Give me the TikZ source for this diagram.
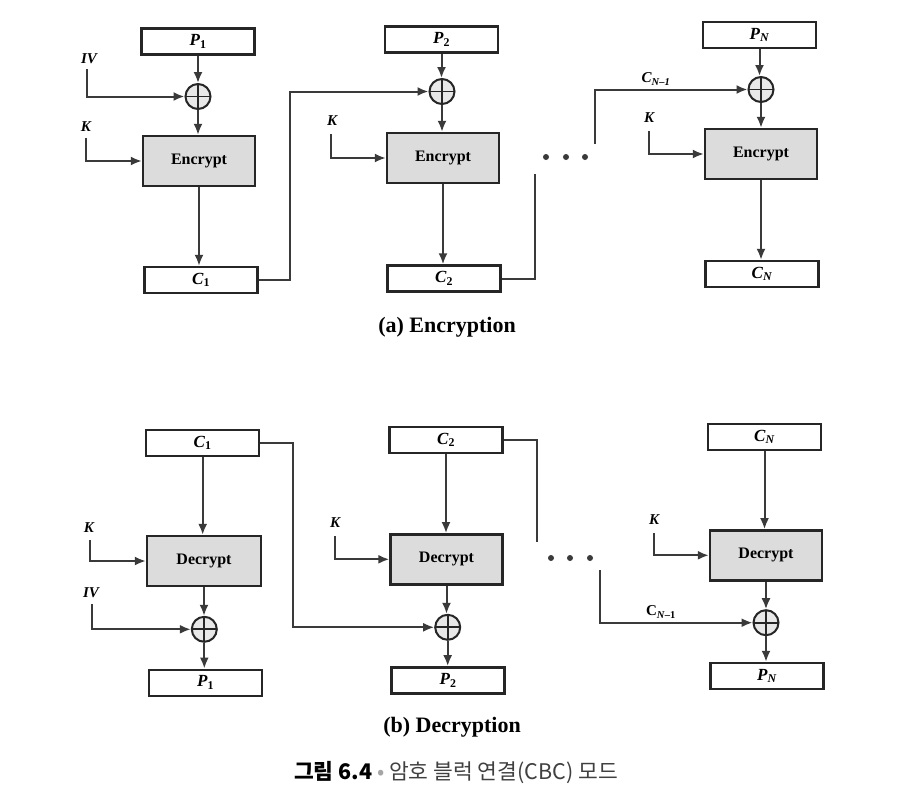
\documentclass[tikz,border=0pt]{standalone}
\usepackage{fontspec}
\setmainfont{Liberation Serif}
\newfontfamily\kr{Noto Sans CJK KR}
\usetikzlibrary{arrows.meta}
\definecolor{ln}{HTML}{3A3A3A}
\definecolor{boxfill}{HTML}{DCDCDC}
\newcommand\lab[2]{\textbf{\textit{#1}}\textsubscript{\textbf{#2}}}
\begin{document}
\begin{tikzpicture}[x=1pt,y=-1pt,
  line/.style={draw=ln,line width=2pt},
  arr/.style={line,-{Latex[length=11pt,width=9pt]}},
  databox/.style={draw=black!85,line width=2.4pt,fill=white,inner sep=0pt,minimum width=113pt,minimum height=26pt,font=\fontsize{17}{17}\selectfont},
  cipherbox/.style={draw=black!85,line width=2.4pt,fill=boxfill,inner sep=0pt,minimum width=112pt,minimum height=50pt,font=\fontsize{16}{16}\selectfont\bfseries},
  xor/.style={circle,draw=black!85,line width=2pt,fill=gray!18,minimum size=25pt,inner sep=0pt,
    path picture={\draw[black!85,line width=1.8pt] (path picture bounding box.north) -- (path picture bounding box.south) (path picture bounding box.west) -- (path picture bounding box.east);}},
  inlab/.style={font=\fontsize{15}{15}\selectfont\bfseries\itshape,inner sep=0pt},
  dot/.style={circle,fill=ln,inner sep=0pt,minimum size=6pt},
  title/.style={font=\fontsize{22}{22}\selectfont\bfseries}
]
\useasboundingbox (0,0) rectangle (897,809);
\fill[white] (0,0) rectangle (897,809);

% ===== Encryption =====
\node[databox] (P1) at (198,41.5) {\lab{P}{1}};
\node[xor] (X1) at (198,96.5) {};
\node[cipherbox] (E1) at (199,161) {Encrypt};
\node[databox] (C1) at (201,280) {\lab{C}{1}};

\node[databox] (P2) at (441.5,39.5) {\lab{P}{2}};
\node[xor] (X2) at (442,91.5) {};
\node[cipherbox] (E2) at (443,158) {Encrypt};
\node[databox] (C2) at (444,278.5) {\lab{C}{2}};

\node[databox] (PN) at (759.5,35) {\lab{P}{\textit{N}}};
\node[xor] (XN) at (761,89.5) {};
\node[cipherbox] (EN) at (761,154) {Encrypt};
\node[databox] (CN) at (762,274) {\lab{C}{\textit{N}}};

\draw[arr] (P1.south) -- (P1.south |- X1.north);
\draw[arr] (X1.south) -- (X1.south |- E1.north);
\draw[arr] (E1.south) -- (E1.south |- C1.north);
\draw[arr] (P2.south) -- (P2.south |- X2.north);
\draw[arr] (X2.south) -- (X2.south |- E2.north);
\draw[arr] (E2.south) -- (E2.south |- C2.north);
\draw[arr] (PN.south) -- (PN.south |- XN.north);
\draw[arr] (XN.south) -- (XN.south |- EN.north);
\draw[arr] (EN.south) -- (EN.south |- CN.north);

\node[inlab] (ivA) at (89,59) {IV};
\coordinate (ivAs) at (87,69);
\draw[arr] (ivAs) |- (X1.west);
\node[inlab] (kA1) at (86,127) {K};
\coordinate (kA1s) at (86,138);
\draw[arr] (kA1s) |- (E1.west);
\node[inlab] (kA2) at (332,121) {K};
\coordinate (kA2s) at (331,134);
\draw[arr] (kA2s) |- (E2.west);
\node[inlab] (kAN) at (649,118) {K};
\coordinate (kANs) at (649,131);
\draw[arr] (kANs) |- (EN.west);

\coordinate (fA1) at (290,0);
\draw[arr] (C1.east) -- (C1.east -| fA1) |- (X2.west);
\coordinate (fA2) at (535,174);
\draw[line] (C2.east) -- (C2.east -| fA2) -- (fA2);
\node[dot] (dA1) at (546,157) {};
\node[dot] (dA2) at (566,157) {};
\node[dot] (dA3) at (585,157) {};
\coordinate (fA3) at (595,144);
\draw[arr] (fA3) |- (XN.west);
\node[inlab] (cnm1A) at (656,79) {\lab{C}{\textit{N}–1}};

\node[title] (ta) at (447,327) {(a) Encryption};

% ===== Decryption =====
\node[databox] (C1b) at (202.7,443) {\lab{C}{1}};
\node[cipherbox,minimum width=114pt] (D1) at (204,561) {Decrypt};
\node[xor] (X1b) at (204.3,629.3) {};
\node[databox] (P1b) at (205.7,682.7) {\lab{P}{1}};

\node[databox] (C2b) at (446,440) {\lab{C}{2}};
\node[cipherbox] (D2) at (446.5,559.3) {Decrypt};
\node[xor] (X2b) at (447.7,627.3) {};
\node[databox] (P2b) at (448,680.3) {\lab{P}{2}};

\node[databox] (CNb) at (764.5,436.7) {\lab{C}{\textit{N}}};
\node[cipherbox] (DN) at (766,555.3) {Decrypt};
\node[xor] (XNb) at (766,622.7) {};
\node[databox] (PNb) at (767,676) {\lab{P}{\textit{N}}};

\draw[arr] (C1b.south) -- (C1b.south |- D1.north);
\draw[arr] (D1.south) -- (D1.south |- X1b.north);
\draw[arr] (X1b.south) -- (X1b.south |- P1b.north);
\draw[arr] (C2b.south) -- (C2b.south |- D2.north);
\draw[arr] (D2.south) -- (D2.south |- X2b.north);
\draw[arr] (X2b.south) -- (X2b.south |- P2b.north);
\draw[arr] (CNb.south) -- (CNb.south |- DN.north);
\draw[arr] (DN.south) -- (DN.south |- XNb.north);
\draw[arr] (XNb.south) -- (XNb.south |- PNb.north);

\node[inlab] (kB1) at (89,528) {K};
\coordinate (kB1s) at (90,540);
\draw[arr] (kB1s) |- (D1.west);
\node[inlab] (ivB) at (91,593) {IV};
\coordinate (ivBs) at (92,604);
\draw[arr] (ivBs) |- (X1b.west);
\node[inlab] (kB2) at (335,523) {K};
\coordinate (kB2s) at (335,536);
\draw[arr] (kB2s) |- (D2.west);
\node[inlab] (kBN) at (654,520) {K};
\coordinate (kBNs) at (654,533);
\draw[arr] (kBNs) |- (DN.west);

\coordinate (fB1) at (293,0);
\draw[arr] (C1b.east) -- (C1b.east -| fB1) |- (X2b.west);
\coordinate (fB2) at (537,542);
\draw[line] (C2b.east) -- (C2b.east -| fB2) -- (fB2);
\node[dot] (dB1) at (551,558) {};
\node[dot] (dB2) at (570,558) {};
\node[dot] (dB3) at (590,558) {};
\coordinate (fB3) at (600,570);
\draw[arr] (fB3) |- (XNb.west);
\node[inlab,font=\fontsize{15}{15}\selectfont\bfseries] (cnm1B) at (661,612) {C\textsubscript{\textit{N}–1}};

\node[title] (tb) at (452,727) {(b) Decryption};

\node[font=\fontsize{21.5}{21.5}\selectfont\kr] (cap) at (456,773) {{\bfseries 그림 6.4} {\color{gray!70}•} {\color{black!75}암호 블럭 연결(CBC) 모드}};
\end{tikzpicture}
\end{document}
